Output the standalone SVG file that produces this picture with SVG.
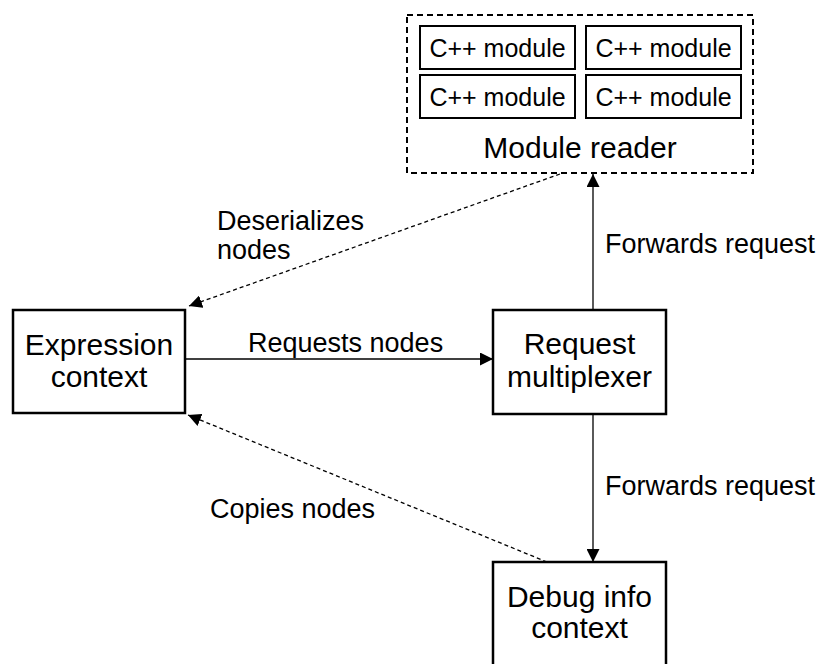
<svg xmlns="http://www.w3.org/2000/svg" width="824" height="664" viewBox="0 0 824 664">
<style>
text{font-family:"Liberation Sans",Arial,sans-serif;fill:#000}
.node{fill:#fff;stroke:#000;stroke-width:2.5}
.mod{fill:#fff;stroke:#000;stroke-width:2}
.nt{font-size:30px;text-anchor:middle}
.mt{font-size:25px;text-anchor:middle}
.lb{font-size:27px}
.c{stroke:#000;stroke-width:1.3;fill:none}
.d{stroke-dasharray:4 3}
</style>
<defs>
<marker id="ah" viewBox="0 0 10 10" refX="10" refY="5" markerWidth="10" markerHeight="10" markerUnits="userSpaceOnUse" orient="auto">
<path d="M0,0 L10,5 L0,10 z" fill="#000"/>
</marker>
<marker id="ah2" viewBox="0 0 10 10" refX="10" refY="5" markerWidth="13" markerHeight="13" markerUnits="userSpaceOnUse" orient="auto">
<path d="M0,0 L10,5 L0,10 z" fill="#000"/>
</marker>
</defs>
<g id="module-reader">
<rect x="407" y="15" width="346" height="158" fill="#fff" stroke="#000" stroke-width="2" stroke-dasharray="6 4"/>
<rect class="mod" x="420" y="26" width="155" height="43"/>
<text class="mt" x="497.5" y="57">C++ module</text>
<rect class="mod" x="586" y="26" width="155" height="43"/>
<text class="mt" x="663.5" y="57">C++ module</text>
<rect class="mod" x="420" y="75" width="155" height="43"/>
<text class="mt" x="497.5" y="106">C++ module</text>
<rect class="mod" x="586" y="75" width="155" height="43"/>
<text class="mt" x="663.5" y="106">C++ module</text>
<text class="nt" x="580" y="158">Module reader</text>
</g>
<g id="expression-context">
<rect class="node" x="13" y="310" width="172" height="103"/>
<text class="nt" x="99" y="355">Expression</text>
<text class="nt" x="99" y="387">context</text>
</g>
<g id="request-multiplexer">
<rect class="node" x="493" y="310" width="173" height="104"/>
<text class="nt" x="579.5" y="354">Request</text>
<text class="nt" x="579.5" y="387">multiplexer</text>
</g>
<g id="debug-info-context">
<rect class="node" x="493" y="562" width="173" height="120"/>
<text class="nt" x="579.5" y="607">Debug info</text>
<text class="nt" x="579.5" y="638">context</text>
</g>
<g id="connectors">
<line class="c" x1="185" y1="359" x2="493" y2="359" marker-end="url(#ah2)"/>
<line class="c" x1="593" y1="310" x2="593" y2="174" marker-end="url(#ah2)"/>
<line class="c" x1="593" y1="414" x2="593" y2="562" marker-end="url(#ah2)"/>
<line class="c d" x1="560" y1="174" x2="189" y2="306" marker-end="url(#ah2)"/>
<line class="c d" x1="547" y1="562" x2="188" y2="415" marker-end="url(#ah2)"/>
<text class="lb" x="248" y="352">Requests nodes</text>
<text class="lb" x="605" y="253">Forwards request</text>
<text class="lb" x="605" y="495">Forwards request</text>
<text class="lb" x="217" y="230">Deserializes</text>
<text class="lb" x="217" y="259">nodes</text>
<text class="lb" x="210" y="518">Copies nodes</text>
</g>
</svg>
